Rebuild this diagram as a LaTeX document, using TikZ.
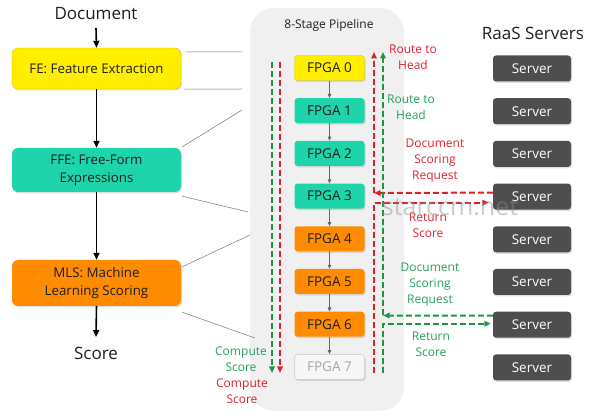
\documentclass[tikz,border=0pt]{standalone}
\usepackage{fontspec}
\setmainfont{Open Sans}
\usetikzlibrary{arrows.meta,shadows}
\definecolor{feY}{RGB}{255,238,0}
\definecolor{feYb}{RGB}{225,195,0}
\definecolor{ffeT}{RGB}{30,212,170}
\definecolor{mlsO}{RGB}{255,140,0}
\definecolor{srvG}{RGB}{78,78,78}
\definecolor{panelG}{RGB}{240,240,240}
\definecolor{dRed}{RGB}{222,30,40}
\definecolor{dGreen}{RGB}{30,150,70}
\definecolor{tRed}{RGB}{222,35,45}
\definecolor{tGreen}{RGB}{40,160,90}
\definecolor{lineG}{RGB}{120,120,120}
\definecolor{txt}{RGB}{30,30,30}
\begin{document}
\begin{tikzpicture}[x=1pt,y=-1pt,
  shad/.style={drop shadow={shadow xshift=1pt,shadow yshift=-1.5pt,opacity=0.25}},
  stagebox/.style={shad,rounded corners=6pt,minimum width=169pt,inner sep=0pt,align=center,
    text=txt,font=\fontsize{13.3}{18}\selectfont},
  fpgabox/.style={shad,rounded corners=3pt,minimum width=70pt,minimum height=25pt,inner sep=0pt,
    text=txt,font=\fontsize{13.5}{15}\selectfont},
  fpgaY/.style={fpgabox,fill=feY,draw=feYb,line width=0.4pt},
  fpgaT/.style={fpgabox,fill=ffeT},
  fpgaO/.style={fpgabox,fill=mlsO},
  fpgaW/.style={fpgabox,fill=white!97!black,draw=black!22,line width=0.5pt,text=black!35},
  srv/.style={shad,rounded corners=3pt,fill=srvG,text=white,minimum width=78pt,minimum height=26pt,
    inner sep=0pt,font=\fontsize{13.5}{15}\selectfont},
  bigtext/.style={inner sep=0pt,text=txt,font=\fontsize{17}{20}\selectfont},
  lbl/.style={inner sep=0pt,align=center,font=\fontsize{12}{16}\selectfont},
  bigarrow/.style={line width=1.6pt,-{Triangle[length=7pt,width=6pt]}},
  smallarrow/.style={draw=black!60,line width=0.8pt,-{Triangle[length=4pt,width=3.5pt]}},
  thinline/.style={draw=lineG,line width=0.5pt},
  reddash/.style={draw=dRed,line width=2pt,dash pattern=on 6pt off 3pt,-{Triangle[length=6.5pt,width=5.5pt]}},
  greendash/.style={draw=dGreen,line width=2pt,dash pattern=on 6pt off 3pt,-{Triangle[length=6.5pt,width=5.5pt]}}
]
\useasboundingbox (0,0) rectangle (600,419);
% pipeline panel
\node[fill=panelG,rounded corners=24pt,minimum width=154pt,minimum height=403pt,inner sep=0pt] (panel) at (327,209.5) {};
\node[lbl,text=txt] (ptitle) at (329,25) {8-Stage Pipeline};
\node[bigtext] (raas) at (533,33) {RaaS Servers};

% left column
\node[bigtext] (doc) at (96,13.5) {Document};
\node[stagebox,fill=feY,draw=feYb,line width=0.4pt,minimum height=41pt] (fe) at (96.5,68.5) {FE: Feature Extraction};
\node[stagebox,fill=ffeT,minimum height=44pt] (ffe) at (96.5,170) {FFE: Free-Form\\Expressions};
\node[stagebox,fill=mlsO,minimum height=46pt] (mls) at (96.5,283) {MLS: Machine\\Learning Scoring};
\node[bigtext] (score) at (96,353.5) {Score};
\draw[bigarrow] ([yshift=-8pt]doc.south) -- (fe.north);
\draw[bigarrow] (fe.south) -- (ffe.north);
\draw[bigarrow] (ffe.south) -- (mls.north);
\draw[bigarrow] (mls.south) -- ([yshift=10pt]score.north);

% thin lines to pipeline
\coordinate (p1) at (242,52);
\coordinate (p2) at (242,89);
\coordinate (p3) at (242,110);
\coordinate (p4) at (248,212);
\coordinate (p5) at (250,235);
\coordinate (p6) at (255,338);
\draw[thinline] ([shift={(5,4)}]fe.north east) -- (p1);
\draw[thinline] ([shift={(3,0)}]fe.south east) -- (p2);
\draw[thinline] ([shift={(1,-1)}]ffe.north east) -- (p3);
\draw[thinline] ([shift={(1,4)}]ffe.south east) -- (p4);
\draw[thinline] ([shift={(1,7)}]mls.north east) -- (p5);
\draw[thinline] ([shift={(1,6)}]mls.south east) -- (p6);

% FPGAs
\foreach \i/\st in {0/fpgaY,1/fpgaT,2/fpgaT,3/fpgaT,4/fpgaO,5/fpgaO,6/fpgaO,7/fpgaW}
  \node[\st] (fpga\i) at (329.5,{68+42.7*\i}) {FPGA \i};
\foreach \i [evaluate=\i as \j using int(\i+1)] in {0,...,6}
  \draw[smallarrow] (fpga\i) -- (fpga\j);

% servers
\foreach \i in {0,...,7}
  \node[srv] (srv\i) at (532,{68.5+42.7*\i}) {Server};

% dashed flows, left
\coordinate (lgT) at (272,62);
\coordinate (lgB) at (272,373);
\coordinate (lrT) at (280,62);
\coordinate (lrB) at (280,373);
\draw[greendash] (lgT) -- (lgB);
\draw[reddash] (lrT) -- (lrB);

% dashed flows, right: red
\coordinate (rrTop) at (374,52);
\coordinate (rrJ) at (374,193);
\coordinate (rrB) at (374,373);
\draw[reddash] ([yshift=4pt]srv3.west) -- (rrJ);
\draw[reddash] (rrJ) -- (rrTop);
\draw[reddash,shorten >=4pt] (rrB) |- ([yshift=-6pt]srv3.west);

% dashed flows, right: green
\coordinate (grTop) at (383,52);
\coordinate (grJ) at (383,315.5);
\coordinate (grB) at (383,373);
\draw[greendash] ([yshift=9pt]srv6.west) -- (grJ);
\draw[greendash] (grJ) -- (grTop);
\draw[greendash,shorten >=2pt] (grB) |- ([yshift=1pt]srv6.west);

% labels
\node[lbl,text=tRed] (lRoute1) at (413,57) {Route to\\Head};
\node[lbl,text=tGreen] (lRoute2) at (411,107) {Route to\\Head};
\node[lbl,text=tRed] (lDoc1) at (435,161) {Document\\Scoring\\Request};
\node[lbl,text=tRed] (lRet1) at (428,225.5) {Return\\Score};
\node[lbl,text=tGreen] (lDoc2) at (430,285) {Document\\Scoring\\Request};
\node[lbl,text=tGreen] (lRet2) at (431,344) {Return\\Score};
\node[lbl,text=tGreen] (lComp1) at (241,359.5) {Compute\\Score};
\node[lbl,text=tRed] (lComp2) at (242,391) {Compute\\Score};

% watermark
\node[inner sep=0pt,text=black!45,opacity=0.45,font=\fontsize{25}{25}\selectfont] (wm) at (450,207) {starccm.net};
\end{tikzpicture}
\end{document}
